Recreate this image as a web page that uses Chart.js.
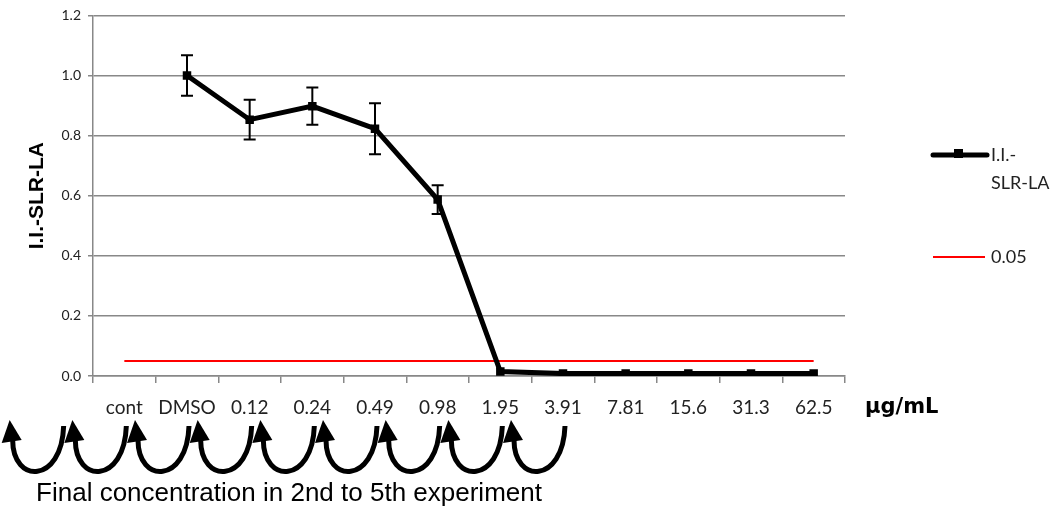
<!doctype html>
<html lang="en">
<head>
    <meta charset="UTF-8">
    <title>I.I.-SLR-LA</title>
    <style>
        html, body { margin: 0; padding: 0; background: #fff; }
        #box { width: 1051px; height: 513px; }
    </style>
</head>
<body>
    <div id="box">
        <canvas id="myChart" width="1051" height="513"></canvas>
    </div>
<script src="https://cdn.jsdelivr.net/npm/chart.js"></script>
<script>
    // categories (x axis)
    var labels = ['cont', 'DMSO', '0.12', '0.24', '0.49', '0.98', '1.95', '3.91', '7.81', '15.6', '31.3', '62.5'];
    // I.I.-SLR-LA means and error (+/-)
    var values = [null, 1.0, 0.853, 0.898, 0.823, 0.587, 0.015, 0.008, 0.008, 0.008, 0.008, 0.008];
    var errors = [null, 0.067, 0.066, 0.062, 0.085, 0.048, 0, 0, 0, 0, 0, 0];
    // threshold line
    var threshold = [0.05, 0.05, 0.05, 0.05, 0.05, 0.05, 0.05, 0.05, 0.05, 0.05, 0.05, 0.05];
    var yTicks = [0, 0.2, 0.4, 0.6, 0.8, 1.0, 1.2];
    var arrowCount = 9;

    Chart.defaults.font.family = 'Lato';
    Chart.defaults.color = '#222';

    // error bars, extra labels, legend, dilution arrows
    var extras = {
        id: 'extras',
        afterDatasetsDraw: function(chart) {
            var ctx = chart.ctx;
            var x = chart.scales.x, y = chart.scales.y;
            ctx.save();
            ctx.strokeStyle = '#000';
            ctx.lineWidth = 2;
            for (var i = 0; i < values.length; i++) {
                if (values[i] == null || !errors[i]) continue;
                var px = x.getPixelForValue(i);
                var top = y.getPixelForValue(values[i] + errors[i]);
                var bot = y.getPixelForValue(values[i] - errors[i]);
                ctx.beginPath();
                ctx.moveTo(px, top); ctx.lineTo(px, bot);
                ctx.moveTo(px - 6, top); ctx.lineTo(px + 6, top);
                ctx.moveTo(px - 6, bot); ctx.lineTo(px + 6, bot);
                ctx.stroke();
            }
            ctx.restore();
        },
        afterDraw: function(chart) {
            var ctx = chart.ctx;
            var x = chart.scales.x;
            var area = chart.chartArea;
            ctx.save();

            // unit label
            ctx.fillStyle = '#000';
            ctx.font = 'bold 21px "DejaVu Sans"';
            ctx.textAlign = 'left';
            ctx.textBaseline = 'middle';
            ctx.fillText('\u00b5g/mL', area.right + 20, 408);

            // legend
            var lx = area.right + 88;
            ctx.strokeStyle = '#000';
            ctx.lineWidth = 5;
            ctx.lineCap = 'round';
            ctx.beginPath(); ctx.moveTo(lx, 155); ctx.lineTo(lx + 54, 155); ctx.stroke();
            ctx.fillRect(lx + 21, 149, 9, 9);
            ctx.strokeStyle = '#ff0000';
            ctx.lineWidth = 2;
            ctx.lineCap = 'butt';
            ctx.beginPath(); ctx.moveTo(lx, 257); ctx.lineTo(lx + 52, 257); ctx.stroke();
            ctx.fillStyle = '#222';
            ctx.font = '18px Lato';
            ctx.fillText('I.I.-', lx + 58, 155);
            ctx.fillText('SLR-LA', lx + 58, 183);
            ctx.fillText('0.05', lx + 58, 257);

            // dilution arrows
            var step = x.getPixelForValue(1) - x.getPixelForValue(0);
            var x0 = x.getPixelForValue(0);
            ctx.strokeStyle = '#000';
            ctx.fillStyle = '#000';
            ctx.lineWidth = 5;
            for (var k = 0; k < arrowCount; k++) {
                var tail = x0 + (k - 1) * step + 2;
                var head = tail - 53;
                ctx.beginPath();
                ctx.moveTo(tail, 426);
                ctx.bezierCurveTo(tail - 2, 484, head + 2, 484, head + 2, 440);
                ctx.stroke();
                ctx.beginPath();
                ctx.moveTo(head - 1, 420);
                ctx.lineTo(head - 9, 443);
                ctx.lineTo(head + 11, 440);
                ctx.closePath();
                ctx.fill();
            }

            // caption
            ctx.fillStyle = '#000';
            ctx.font = '26px "Liberation Sans"';
            ctx.textAlign = 'center';
            ctx.fillText('Final concentration in 2nd to 5th experiment', 289, 494);
            ctx.restore();
        }
    };

    var ctx = document.getElementById('myChart').getContext('2d');
    var chart = new Chart(ctx, {
        type: 'line',
        data: {
            labels: labels,
            datasets: [{
                label: 'I.I.-SLR-LA',
                data: values,
                borderColor: '#000',
                backgroundColor: '#000',
                borderWidth: 5,
                pointStyle: 'rect',
                pointRadius: 6,
                pointBorderWidth: 0,
                tension: 0
            }, {
                label: '0.05',
                data: threshold,
                borderColor: '#ff0000',
                backgroundColor: '#ff0000',
                borderWidth: 2,
                pointRadius: 0,
                tension: 0
            }]
        },
        options: {
            responsive: false,
            animation: false,
            layout: { padding: { left: 0, top: 15, right: 206, bottom: 0 } },
            plugins: {
                legend: { display: false },
                tooltip: { enabled: false }
            },
            scales: {
                x: {
                    offset: true,
                    grid: { offset: true, drawOnChartArea: false, drawTicks: true, tickLength: 7, color: '#888', lineWidth: 1.5 },
                    border: { color: '#888', width: 1.5 },
                    ticks: { font: { size: 19 }, color: '#222', padding: 13, maxRotation: 0, autoSkip: false },
                    afterFit: function(s) { s.height = 137; }
                },
                y: {
                    min: 0,
                    max: 1.2,
                    afterBuildTicks: function(s) { s.ticks = yTicks.map(function(v) { return { value: v }; }); },
                    ticks: {
                        font: { size: 14 },
                        color: '#222',
                        padding: 7,
                        callback: function(v) { return v.toFixed(1); }
                    },
                    grid: { color: '#888', lineWidth: 1.5, tickLength: 5 },
                    border: { color: '#888', width: 1.5 },
                    title: {
                        display: true,
                        text: 'I.I.-SLR-LA',
                        color: '#000',
                        font: { family: 'Liberation Sans', size: 21, weight: 'bold' },
                        padding: { top: 25, bottom: 0 }
                    },
                    afterFit: function(s) { s.width = 93; }
                }
            }
        },
        plugins: [extras]
    });
</script>
</body>
</html>
